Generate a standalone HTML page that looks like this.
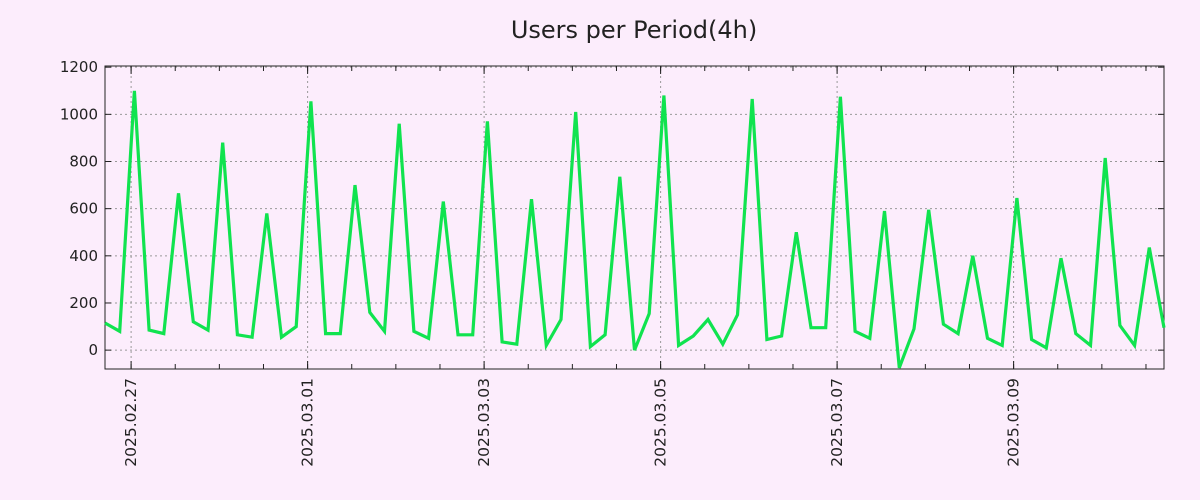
<!DOCTYPE html>
<html><head><meta charset="utf-8"><style>
html,body{margin:0;padding:0;background:#fcedfc;}
svg{display:block;font-family:"DejaVu Sans","Liberation Sans",sans-serif;}
</style></head><body>
<svg id="chart" width="1200" height="500" xmlns="http://www.w3.org/2000/svg">
<rect width="1200" height="500" fill="#fcedfc"/>
<text x="634" y="38" text-anchor="middle" font-size="24" fill="#222">Users per Period(4h)</text>
<g id="grid"></g><g id="axes"></g><g id="series"></g>
</svg>
<script>
const values = [115,80,1100,85,70,665,120,85,880,65,55,580,55,100,1055,70,70,700,160,80,960,80,50,630,65,65,970,35,25,640,20,130,1010,15,65,735,0,155,1080,20,60,130,25,150,1065,45,60,500,95,95,1075,80,50,590,-75,90,595,110,70,400,50,20,645,45,10,390,70,20,815,105,20,435,95];
const startHour = -7.1; // hours relative to 2025.02.27 00:00
const periodHours = 4;
const yTicks = [0,200,400,600,800,1000,1200];
const dateLabels = ["2025.02.27","2025.03.01","2025.03.03","2025.03.05","2025.03.07","2025.03.09"];
const dateLabelDays = [0,2,4,6,8,10];

const L=105,R=1164,T=66,B=369, yMin=-80, yMax=1205;
const NS="http://www.w3.org/2000/svg";
const totalH=(values.length-1)*periodHours;
function xH(h){return L+(h-startHour)/totalH*(R-L);}
function y(v){return B-(v-yMin)/(yMax-yMin)*(B-T);}
function mk(tag,attrs,parent){const e=document.createElementNS(NS,tag);for(const k in attrs)e.setAttribute(k,attrs[k]);parent.appendChild(e);return e;}
const grid=document.getElementById('grid'),axes=document.getElementById('axes'),series=document.getElementById('series');

yTicks.forEach(v=>{
  const yy=y(v);
  const g=mk('line',{x1:L,x2:R,y1:yy,y2:yy,stroke:'#999','stroke-width':1,'stroke-dasharray':'2,3'},grid);
  
  
  mk('line',{x1:L,x2:L+6,y1:yy,y2:yy,stroke:'#222'},axes);
  mk('line',{x1:R,x2:R-6,y1:yy,y2:yy,stroke:'#222'},axes);
  const t=mk('text',{x:L-7,y:yy+5,'text-anchor':'end','font-size':15,fill:'#222'},axes);
  t.textContent=v;
  
  
});
for(let h=Math.ceil(startHour/12)*12; h<=startHour+totalH; h+=12){
  const xx=xH(h);
  mk('line',{x1:xx,x2:xx,y1:B,y2:B-5,stroke:'#222'},axes);
  mk('line',{x1:xx,x2:xx,y1:T,y2:T+5,stroke:'#222'},axes);
}
dateLabels.forEach((lab,i)=>{
  const xx=xH(dateLabelDays[i]*24);
  const g=mk('line',{x1:xx,x2:xx,y1:T,y2:B,stroke:'#999','stroke-width':1,'stroke-dasharray':'2,3'},grid);
  
  
  mk('line',{x1:xx,x2:xx,y1:B,y2:B-8,stroke:'#222'},axes);
  mk('line',{x1:xx,x2:xx,y1:T,y2:T+8,stroke:'#222'},axes);
  const t=mk('text',{x:0,y:0,'text-anchor':'end','font-size':15.5,fill:'#222',transform:`translate(${xx+5},378) rotate(-90)`},axes);
  t.textContent=lab;
  
  
});
const frame=mk('rect',{x:L,y:T,width:R-L,height:B-T,fill:'none',stroke:'#222','stroke-width':1},axes);


const pts=values.map((v,i)=>xH(startHour+i*periodHours).toFixed(1)+','+y(v).toFixed(1)).join(' ');
const line=mk('polyline',{points:pts,fill:'none',stroke:'#10e34f','stroke-width':3.2,'stroke-linejoin':'miter'},series);


</script>
</body></html>
